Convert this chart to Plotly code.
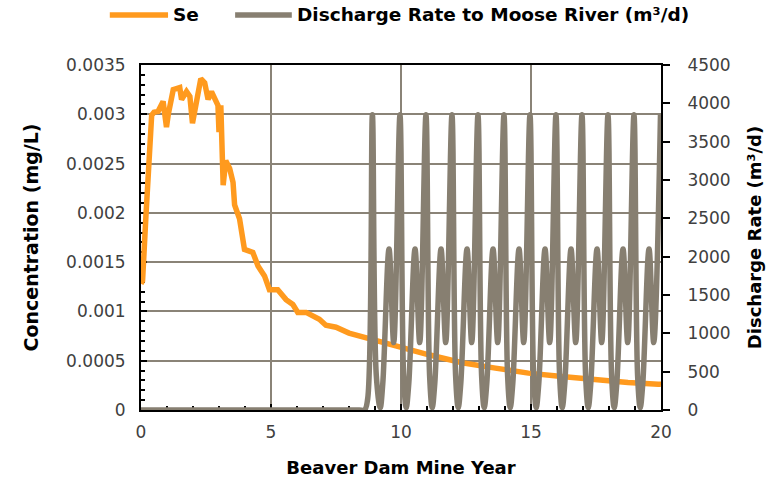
import plotly.graph_objects as go

# Se concentration in the receiving water (mg/L) by mine year
se_year = [0.0, 0.06, 0.19, 0.28, 0.35, 0.41, 0.5, 0.66, 0.85, 0.98, 1.05, 1.24, 1.49,
           1.56, 1.75, 1.88, 1.98, 2.3, 2.45, 2.58, 2.71, 2.84, 2.96, 3.0, 3.07, 3.13,
           3.16, 3.26, 3.41, 3.54, 3.6, 3.79, 3.98, 4.3, 4.5, 4.75, 4.94, 5.26, 5.58,
           5.84, 6.03, 6.35, 6.86, 7.11, 7.5, 8.0, 8.65, 9.8, 11.07, 12.35, 13.63,
           14.9, 16.18, 17.46, 18.73, 19.89, 20.0]
se_conc = [0.00128, 0.00131, 0.00197, 0.00232, 0.0027, 0.00299, 0.00302, 0.00303,
           0.00313, 0.00287, 0.0030, 0.00325, 0.00327, 0.00315, 0.00323, 0.00318,
           0.00291, 0.00336, 0.00332, 0.00315, 0.00323, 0.00315, 0.00309, 0.00282,
           0.00309, 0.00255, 0.00228, 0.00253, 0.00245, 0.00231, 0.00208, 0.00194,
           0.00163, 0.0016, 0.00146, 0.00136, 0.00122, 0.00122, 0.00112, 0.00107,
           0.00099, 0.00099, 0.00092, 0.00086, 0.00084, 0.00078, 0.00073, 0.00065,
           0.00056, 0.00048, 0.000425, 0.000374, 0.00034, 0.000306, 0.00028,
           0.000262, 0.00026]

# Discharge rate to Moose River (m3/d) by mine year
dis_year = [0.0, 1.0, 2.0, 3.0, 4.0, 5.0, 6.0, 7.0, 8.0, 8.4, 8.6, 8.72, 8.9,
            9.05, 9.2, 9.3, 9.54, 9.72, 9.96,
            10.1, 10.2, 10.3, 10.54, 10.72, 10.96,
            11.1, 11.2, 11.3, 11.54, 11.72, 11.96,
            12.1, 12.2, 12.3, 12.54, 12.72, 12.96,
            13.1, 13.2, 13.3, 13.54, 13.72, 13.96,
            14.1, 14.2, 14.3, 14.54, 14.72, 14.96,
            15.1, 15.2, 15.3, 15.54, 15.72, 15.96,
            16.1, 16.2, 16.3, 16.54, 16.72, 16.96,
            17.1, 17.2, 17.3, 17.54, 17.72, 17.96,
            18.1, 18.2, 18.3, 18.54, 18.72, 18.96,
            19.1, 19.2, 19.3, 19.54, 19.72, 19.98]
dis_rate = [0, 0, 0, 0, 0, 0, 0, 0, 0, 0, 0, 150, 3850,
            450, 30, 350, 2100, 880, 3850,
            450, 30, 350, 2100, 880, 3850,
            450, 30, 350, 2100, 880, 3850,
            450, 30, 350, 2100, 880, 3850,
            450, 30, 350, 2100, 880, 3850,
            450, 30, 350, 2100, 880, 3850,
            450, 30, 350, 2100, 880, 3850,
            450, 30, 350, 2100, 880, 3850,
            450, 30, 350, 2100, 880, 3850,
            450, 30, 350, 2100, 880, 3850,
            450, 30, 350, 2100, 880, 3850]

conc_ticks = [0, 0.0005, 0.001, 0.0015, 0.002, 0.0025, 0.003, 0.0035]
conc_labels = ["0", "0.0005", "0.001", "0.0015", "0.002", "0.0025", "0.003", "0.0035"]
rate_ticks = [0, 500, 1000, 1500, 2000, 2500, 3000, 3500, 4000, 4500]
year_ticks = [0, 5, 10, 15, 20]

SE_NAME = "Se"
DIS_NAME = "Discharge Rate to Moose River (m³/d)"

ORANGE = "#FF9A1E"
TAUPE = "#877F71"
GRID = "#8A8377"
FONT = "DejaVu Sans"
TICK_FONT = dict(family=FONT, size=17, color="#404040")
TITLE_FONT = dict(family=FONT, size=18, color="#000000", weight="bold")
LEGEND_FONT = dict(family=FONT, size=18.5, color="#000000", weight="bold")

fig = go.Figure()
fig.add_trace(go.Scatter(
    x=se_year, y=se_conc, name=SE_NAME, mode="lines",
    line=dict(color=ORANGE, width=5.5), yaxis="y"))
fig.add_trace(go.Scatter(
    x=dis_year, y=dis_rate, name=DIS_NAME, mode="lines",
    line=dict(color=TAUPE, width=5.5, shape="spline", smoothing=1.0), yaxis="y2"))

# Legend row across the top, drawn as line samples plus labels
LEG_Y = 1.145
legend_items = [
    (ORANGE, -0.060, 0.052, 0.058, SE_NAME),
    (TAUPE, 0.181, 0.290, 0.296, DIS_NAME),
]
for color, x0, x1, xt, label in legend_items:
    fig.add_shape(type="line", xref="paper", yref="paper",
                  x0=x0, x1=x1, y0=LEG_Y, y1=LEG_Y,
                  line=dict(color=color, width=5.5))
    fig.add_annotation(xref="paper", yref="paper", x=xt, y=LEG_Y,
                       xanchor="left", yanchor="middle", showarrow=False,
                       text=label, font=LEGEND_FONT)

fig.update_layout(
    width=775, height=487,
    margin=dict(l=141, r=114, t=65, b=77),
    paper_bgcolor="white", plot_bgcolor="white",
    showlegend=False,
    xaxis=dict(
        range=[0, 20], tickvals=year_ticks, ticktext=[str(v) for v in year_ticks],
        ticks="inside", ticklen=6, tickwidth=2, tickcolor="black",
        minor=dict(dtick=1, ticks="inside", ticklen=4, tickwidth=2, tickcolor="black",
                   showgrid=False),
        showgrid=True, gridcolor=GRID, gridwidth=2,
        showline=True, linecolor="black", linewidth=2, mirror=True,
        zeroline=False, tickfont=TICK_FONT, ticklabelstandoff=6,
        title=dict(text="Beaver Dam Mine Year", font=TITLE_FONT, standoff=20),
        layer="below traces"),
    yaxis=dict(
        range=[0, 0.0035], tickvals=conc_ticks, ticktext=conc_labels,
        ticks="inside", ticklen=6, tickwidth=2, tickcolor="black",
        minor=dict(dtick=0.0001, ticks="inside", ticklen=4, tickwidth=2,
                   tickcolor="black", showgrid=False),
        showgrid=True, gridcolor=GRID, gridwidth=2,
        showline=True, linecolor="black", linewidth=2,
        zeroline=False, tickfont=TICK_FONT, ticklabelstandoff=10,
        title=dict(text="Concentration (mg/L)",
                   font=dict(family=FONT, size=19, color="#000000", weight="bold"),
                   standoff=22),
        layer="below traces"),
    yaxis2=dict(
        range=[0, 4500], tickvals=rate_ticks, ticktext=[str(v) for v in rate_ticks],
        overlaying="y", side="right",
        ticks="outside", ticklen=7, tickwidth=2, tickcolor="black",
        showgrid=False, showline=True, linecolor="black", linewidth=2,
        zeroline=False, tickfont=TICK_FONT, ticklabelstandoff=14,
        title=dict(text="Discharge Rate (m³/d)", font=TITLE_FONT, standoff=19)),
)

fig.write_html("out.html")
